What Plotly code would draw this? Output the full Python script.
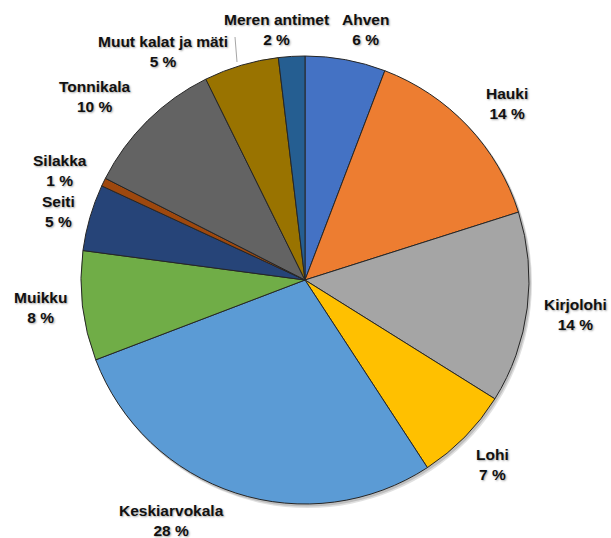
import plotly.graph_objects as go

categories = ["Ahven", "Hauki", "Kirjolohi", "Lohi", "Keskiarvokala", "Muikku",
              "Seiti", "Silakka", "Tonnikala", "Muut kalat ja mäti", "Meren antimet"]
values = [5.8, 14.3, 13.8, 6.9, 28.4, 7.9, 4.8, 0.6, 10.2, 5.4, 1.9]
colors = ["#4472C4", "#ED7D31", "#A5A5A5", "#FFC000", "#5B9BD5", "#70AD47",
          "#264478", "#9E480E", "#636363", "#997300", "#255E91"]

# label block centres in pixels (layout only)
label_px = {
    "Ahven": (365, 29),
    "Hauki": (507, 104),
    "Kirjolohi": (575, 314),
    "Lohi": (492, 464),
    "Keskiarvokala": (171, 520),
    "Muikku": (40, 307),
    "Seiti": (58, 211),
    "Silakka": (60, 171),
    "Tonnikala": (95, 97),
    "Muut kalat ja mäti": (163, 52),
    "Meren antimet": (276, 29),
}

W, H = 611, 538
cx, cy, r = 305, 280, 224

fig = go.Figure()
fig.add_trace(go.Pie(
    labels=categories, values=values, sort=False, direction="clockwise",
    rotation=0, textinfo="none", hoverinfo="label+percent",
    marker=dict(colors=colors, line=dict(color="#262626", width=1)),
    domain=dict(x=[(cx - r) / W, (cx + r) / W], y=[(H - cy - r) / H, (H - cy + r) / H]),
    showlegend=False,
))

total = sum(values)
annotations = []
for name, v in zip(categories, values):
    px, py = label_px[name]
    pct = round(v / total * 100)
    annotations.append(dict(
        x=px / W, y=1 - py / H, xref="paper", yref="paper",
        text=f"<b>{name}<br>{pct} %</b>", showarrow=False,
        xanchor="center", yanchor="middle", align="center",
        font=dict(family="Liberation Sans, Arial", size=15.5, color="#111111",
                  shadow="1px 1px 2px rgba(0,0,0,0.35)"),
    ))

shapes = [
    dict(type="circle", xref="paper", yref="paper", layer="below",
         x0=(cx - r + 2) / W, x1=(cx + r + 3) / W,
         y0=1 - (cy + r + 4) / H, y1=1 - (cy - r + 2) / H,
         fillcolor="rgba(0,0,0,0.12)", line=dict(width=0)),
    dict(type="circle", xref="paper", yref="paper", layer="below",
         x0=(cx - r + 1) / W, x1=(cx + r + 2) / W,
         y0=1 - (cy + r + 2.5) / H, y1=1 - (cy - r + 1) / H,
         fillcolor="rgba(0,0,0,0.15)", line=dict(width=0)),
    dict(type="line", xref="paper", yref="paper",
         x0=235 / W, y0=1 - 37 / H, x1=237 / W, y1=1 - 62 / H,
         line=dict(color="#A6A6A6", width=1)),
]

fig.update_layout(
    width=W, height=H, margin=dict(l=0, r=0, t=0, b=0),
    paper_bgcolor="white", plot_bgcolor="white",
    annotations=annotations, shapes=shapes,
)
fig.write_html("out.html")
